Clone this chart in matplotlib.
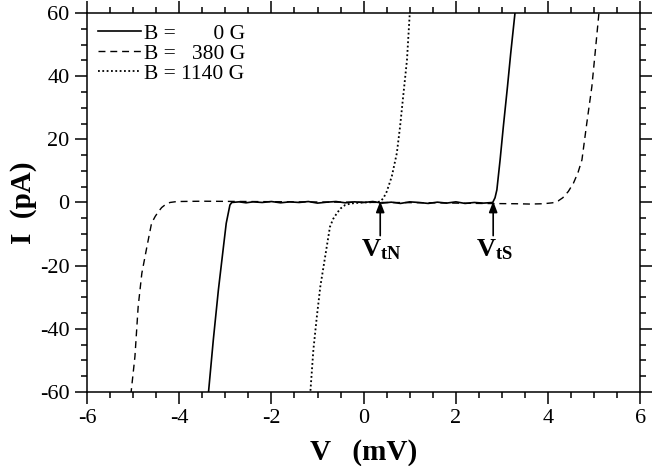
import matplotlib
matplotlib.use("Agg")
import matplotlib.pyplot as plt
from matplotlib.ticker import MultipleLocator

plt.rcParams["font.family"] = ["Liberation Serif", "DejaVu Serif"]
plt.rcParams["mathtext.fontset"] = "custom"
plt.rcParams["mathtext.rm"] = "Liberation Serif"
plt.rcParams["mathtext.bf"] = "Liberation Serif:bold"
plt.rcParams["mathtext.it"] = "Liberation Serif:italic"
plt.rcParams["axes.unicode_minus"] = False

# I-V curves (V in mV, I in pA)
v_0G = [-3.37, -3.26, -3.15, -3.04, -2.98, -2.90, -2.86, -2.70, -2.55, -2.40, -2.20,
        -2.00, -1.80, -1.60, -1.40, -1.20, -1.00, -0.80, -0.60, -0.40, -0.20, 0.00,
        0.20, 0.40, 0.60, 0.80, 1.00, 1.20, 1.40, 1.60, 1.80, 2.00, 2.20, 2.40,
        2.60, 2.80, 2.85, 2.89, 2.96, 3.03, 3.12, 3.19, 3.29]
i_0G = [-61.0, -43.5, -27.7, -14.0, -6.6, -0.8, 0.0, 0.2, -0.1, 0.2, 0.0,
        0.3, -0.1, 0.2, 0.0, 0.3, -0.2, 0.1, 0.3, -0.1, 0.2, 0.0,
        0.3, -0.2, 0.1, -0.3, 0.2, 0.0, -0.3, 0.1, -0.2, 0.2, -0.3, 0.0,
        -0.2, 0.0, 1.5, 4.0, 13.5, 24.0, 36.7, 47.2, 61.0]

v_380G = [-5.05, -4.96, -4.89, -4.81, -4.70, -4.60, -4.52, -4.45, -4.38, -4.31,
          -4.20, -4.05, -3.50, -2.50, -1.50, -0.50, 0.50, 1.50, 2.50, 3.30, 3.61,
          3.90, 4.10, 4.22, 4.32, 4.44, 4.55, 4.65, 4.735, 4.84, 4.95, 5.02, 5.11]
i_380G = [-61.0, -48.8, -33.0, -22.4, -14.0, -6.6, -4.4, -2.9, -1.6, -0.8,
          0.0, 0.3, 0.4, 0.3, 0.2, 0.1, 0.0, -0.1, -0.3, -0.4, -0.5,
          -0.4, -0.1, 0.5, 1.5, 3.5, 6.1, 9.5, 13.5, 25.1, 36.7, 47.2, 61.0]

v_1140G = [-1.16, -1.09, -1.015, -0.94, -0.835, -0.73, -0.66, -0.58, -0.50, -0.40,
           -0.30, -0.20, 0.00, 0.20, 0.30, 0.36, 0.43, 0.50, 0.61, 0.72, 0.79,
           0.865, 0.94, 1.005]
i_1140G = [-61.0, -46.7, -36.2, -26.7, -17.2, -7.7, -5.2, -3.4, -1.9, -0.8,
           -0.4, -0.2, 0.0, 0.1, 0.15, 0.3, 1.4, 3.4, 8.2, 15.6, 24.0,
           34.6, 45.1, 61.0]

labels = ["B =       0 G", "B =   380 G", "B = 1140 G"]

# threshold voltages marked by arrows
v_tN = 0.36
v_tS = 2.81

fig = plt.figure(figsize=(6.54, 4.66), dpi=100)
ax = fig.add_axes([0.133, 0.159, 0.846, 0.813])

ax.plot(v_0G, i_0G, color="k", lw=1.2, label=labels[0])
ax.plot(v_380G, i_380G, color="k", lw=1.0, linestyle=(0, (5, 3.5)), label=labels[1])
ax.plot(v_1140G, i_1140G, color="k", lw=1.3, linestyle=(0, (1, 1.4)), label=labels[2])

ax.set_xlim(-6, 6)
ax.set_ylim(-60, 60)
ax.xaxis.set_major_locator(MultipleLocator(2))
ax.xaxis.set_minor_locator(MultipleLocator(0.5))
ax.yaxis.set_major_locator(MultipleLocator(20))
ax.yaxis.set_minor_locator(MultipleLocator(5))
ax.tick_params(which="both", direction="out", top=True, right=True, width=1.1,
               labelsize=16)
ax.tick_params(which="major", length=8.5, pad=4)
ax.tick_params(which="minor", length=4.5)
for s in ax.spines.values():
    s.set_linewidth(1.1)

ax.set_xlabel("V   (mV)", fontsize=21, fontweight="bold", labelpad=8)
ax.set_ylabel("I  (pA)", fontsize=21, fontweight="bold", labelpad=2)

for v, name in [(v_tN, r"$\mathbf{V_{tN}}$"), (v_tS, r"$\mathbf{V_{tS}}$")]:
    ax.annotate("", xy=(v, 0.4), xytext=(v, -10.5),
                arrowprops=dict(arrowstyle="-|>,head_length=0.65,head_width=0.25",
                                color="k", lw=1.2, mutation_scale=10,
                                shrinkA=0, shrinkB=0))
    ax.text(v + 0.02, -17.0, name, fontsize=19, ha="center", va="baseline")

leg = ax.legend(loc="upper left", frameon=False, fontsize=15.5, handlelength=2.0,
                handletextpad=0.15, labelspacing=0.0, borderaxespad=0.3,
                borderpad=0.2)

fig.savefig("out.png", dpi=100)
